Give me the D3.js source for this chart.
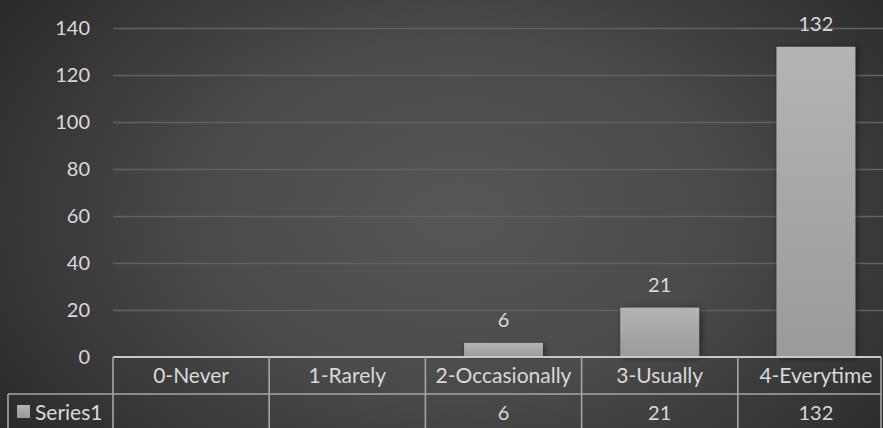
<!DOCTYPE html>
<html><head><meta charset="utf-8">
<script src="https://cdn.jsdelivr.net/npm/d3@7"></script>
<style>html,body{margin:0;padding:0;background:#2b2b2b;overflow:hidden}svg{display:block}</style>
</head><body>
<script>
const categories = ["0-Never","1-Rarely","2-Occasionally","3-Usually","4-Everytime"];
const values = [null, null, 6, 21, 132];
const seriesName = "Series1";
const yTicks = [0,20,40,60,80,100,120,140];

const W = 883, H = 428;
const font = "Lato, 'Open Sans', sans-serif";
const txt = "#d9d9d9";
const fsText = 21, fsNum = 20;
const svg = d3.select("body").append("svg").attr("width", W).attr("height", H);
const defs = svg.append("defs");
const bg = defs.append("radialGradient").attr("id","bg").attr("cx","52%").attr("cy","50%").attr("r","65%")
  .attr("gradientTransform","translate(0.52,0.5) scale(1,1.4) translate(-0.52,-0.5)");
bg.append("stop").attr("offset","0%").attr("stop-color","#575757");
bg.append("stop").attr("offset","45%").attr("stop-color","#4a4a4a");
bg.append("stop").attr("offset","100%").attr("stop-color","#282828");
const bar = defs.append("linearGradient").attr("id","bar").attr("x1",0).attr("y1",0).attr("x2",0).attr("y2",1);
bar.append("stop").attr("offset","0%").attr("stop-color","#b4b4b4");
bar.append("stop").attr("offset","100%").attr("stop-color","#9a9a9a");
const sh = defs.append("filter").attr("id","sh").attr("x","-30%").attr("y","-10%").attr("width","160%").attr("height","120%");
sh.append("feDropShadow").attr("dx",2).attr("dy",1).attr("stdDeviation",3).attr("flood-color","#000").attr("flood-opacity",0.45);
const key = defs.append("linearGradient").attr("id","key").attr("x1",0).attr("y1",0).attr("x2",0).attr("y2",1);
key.append("stop").attr("offset","0%").attr("stop-color","#b4b4b4");
key.append("stop").attr("offset","100%").attr("stop-color","#999");

svg.append("rect").attr("width",W).attr("height",H).attr("fill","url(#bg)");

const left = 113, right = 894, y0 = 357, yTop = 28;
const x = d3.scaleBand().domain(categories).range([left, right]).paddingInner(0).paddingOuter(0);
const y = d3.scaleLinear().domain([0,140]).range([y0, yTop]);

// gridlines
const ax = svg.append("g").attr("transform",`translate(${left},0)`)
  .call(d3.axisLeft(y).tickValues(yTicks).tickSize(-(W-left)).tickPadding(23));
ax.select(".domain").remove();
ax.selectAll(".tick line").attr("stroke","#626262").attr("stroke-width",1.5)
  .filter(d=>d===0).remove();
ax.selectAll(".tick text").attr("fill",txt).attr("font-family",font).attr("font-size",fsNum);

// bars
const bw = x.bandwidth()*0.505;
const pts = categories.map((c,i)=>({c,v:values[i]})).filter(d=>d.v!=null);
svg.append("g").selectAll("rect").data(pts)
  .join("rect")
  .attr("x",d=>x(d.c)+x.bandwidth()/2-bw/2).attr("width",bw)
  .attr("y",d=>y(d.v)).attr("height",d=>y0-y(d.v))
  .attr("fill","url(#bar)").attr("filter","url(#sh)");

// data labels
svg.append("g").selectAll("text").data(pts)
  .join("text")
  .attr("x",d=>x(d.c)+x.bandwidth()/2).attr("y",d=>y(d.v)-16)
  .attr("text-anchor","middle").attr("fill",txt).attr("font-family",font).attr("font-size",fsNum)
  .text(d=>d.v);

// data table
const lineC = "#a6a6a6";
const row1 = 394, bottom = 440, rightEdge = 881;
const t = svg.append("g").attr("stroke",lineC).attr("stroke-width",1.6).attr("fill","none");
t.append("line").attr("x1",left).attr("x2",rightEdge).attr("y1",y0).attr("y2",y0).attr("stroke","#c8c8c8").attr("stroke-width",2);
t.append("line").attr("x1",8).attr("x2",rightEdge).attr("y1",row1).attr("y2",row1);
t.append("line").attr("x1",8).attr("x2",8).attr("y1",row1).attr("y2",bottom);
categories.forEach(c=>{
  t.append("line").attr("x1",x(c)).attr("x2",x(c)).attr("y1",y0).attr("y2",bottom);
});
t.append("line").attr("x1",rightEdge).attr("x2",rightEdge).attr("y1",y0).attr("y2",bottom);

svg.append("g").selectAll("text").data(categories).join("text")
  .attr("x",d=>x(d)+x.bandwidth()/2).attr("y",383)
  .attr("text-anchor","middle").attr("fill",txt).attr("font-family",font).attr("font-size",fsText)
  .text(d=>d);
svg.append("g").selectAll("text").data(pts).join("text")
  .attr("x",d=>x(d.c)+x.bandwidth()/2).attr("y",420)
  .attr("text-anchor","middle").attr("fill",txt).attr("font-family",font).attr("font-size",fsNum)
  .text(d=>d.v);

svg.append("rect").attr("x",17).attr("y",405).attr("width",13).attr("height",13).attr("fill","url(#key)");
svg.append("text").attr("x",35).attr("y",420).attr("fill",txt).attr("font-family",font).attr("font-size",fsText).text(seriesName);
</script>
</body></html>
